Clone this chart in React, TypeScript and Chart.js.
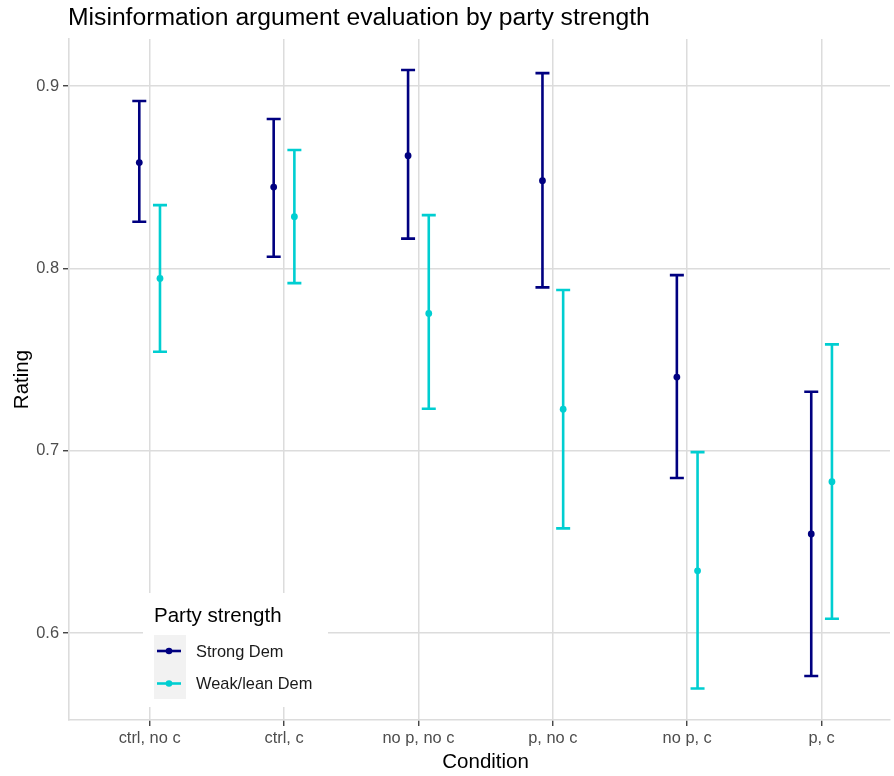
import { useEffect, useRef } from "react";
import { Chart, registerables } from "chart.js";

Chart.register(...registerables);

const categories = ["ctrl, no c", "ctrl, c", "no p, no c", "p, no c", "no p, c", "p, c"];
const seriesNames = ["Strong Dem", "Weak/lean Dem"];
const strongMean = [0.858, 0.8446, 0.8618, 0.8481, 0.7404, 0.6543];
const strongLow = [0.8256, 0.8064, 0.8163, 0.7896, 0.685, 0.5764];
const strongHigh = [0.8918, 0.8819, 0.9088, 0.9071, 0.7963, 0.7323];
const weakMean = [0.7945, 0.8283, 0.7753, 0.7228, 0.6341, 0.683];
const weakLow = [0.7543, 0.7919, 0.723, 0.6574, 0.5696, 0.6078];
const weakHigh = [0.8347, 0.8649, 0.8292, 0.7881, 0.6992, 0.7583];
const yTicks = [0.6, 0.7, 0.8, 0.9];
const yTickLabels = ["0.6", "0.7", "0.8", "0.9"];
const seriesColors = ["#000080", "#00CED1"];
const dodgeOffsets = [-0.077, 0.077];

const titleText = "Misinformation argument evaluation by party strength";
const xTitle = "Condition";
const yTitle = "Rating";
const legendTitle = "Party strength";

const FONT = "'Liberation Sans', Arial, Helvetica, sans-serif";

type Pt = { x: number; y: number; lo: number; hi: number };

function buildData(mean: number[], lo: number[], hi: number[], off: number): Pt[] {
  return categories.map((_, i) => ({ x: i + off, y: mean[i], lo: lo[i], hi: hi[i] }));
}

const errorBarPlugin = {
  id: "errorBars",
  beforeDatasetsDraw(chart: any) {
    const ctx = chart.ctx;
    const xs = chart.scales.x;
    const ys = chart.scales.y;
    chart.data.datasets.forEach((ds: any) => {
      ctx.save();
      ctx.strokeStyle = ds.borderColor;
      ctx.lineWidth = 2.6;
      ctx.lineCap = "butt";
      (ds.data as Pt[]).forEach((d) => {
        const px = xs.getPixelForValue(d.x);
        const pLo = ys.getPixelForValue(d.lo);
        const pHi = ys.getPixelForValue(d.hi);
        const hw = 7;
        ctx.beginPath();
        ctx.moveTo(px, pLo);
        ctx.lineTo(px, pHi);
        ctx.moveTo(px - hw, pHi);
        ctx.lineTo(px + hw, pHi);
        ctx.moveTo(px - hw, pLo);
        ctx.lineTo(px + hw, pLo);
        ctx.stroke();
      });
      ctx.restore();
    });
  },
};

const decorPlugin = {
  id: "decor",
  afterDraw(chart: any) {
    const ctx = chart.ctx;
    const area = chart.chartArea;
    const xs = chart.scales.x;
    ctx.save();
    // title
    ctx.fillStyle = "#000000";
    ctx.font = `24.7px ${FONT}`;
    ctx.textAlign = "left";
    ctx.textBaseline = "alphabetic";
    ctx.fillText(titleText, 68, 25);
    // x title
    ctx.font = `20.5px ${FONT}`;
    ctx.textAlign = "center";
    ctx.fillText(xTitle, xs.getPixelForValue((categories.length - 1) / 2), 768);
    // y title
    ctx.save();
    ctx.translate(28, (area.top + area.bottom) / 2);
    ctx.rotate(-Math.PI / 2);
    ctx.fillText(yTitle, 0, 0);
    ctx.restore();

    // legend
    ctx.fillStyle = "#ffffff";
    ctx.fillRect(143, 593, 185, 114);
    ctx.fillStyle = "#000000";
    ctx.font = `20.5px ${FONT}`;
    ctx.textAlign = "left";
    ctx.fillText(legendTitle, 154, 622);
    ctx.fillStyle = "#f2f2f2";
    ctx.fillRect(154, 635, 32, 64);
    const rows = [651, 683.5];
    seriesNames.forEach((name, i) => {
      const cy = rows[i];
      ctx.strokeStyle = seriesColors[i];
      ctx.lineWidth = 2.6;
      ctx.beginPath();
      ctx.moveTo(157, cy);
      ctx.lineTo(181, cy);
      ctx.stroke();
      ctx.fillStyle = seriesColors[i];
      ctx.beginPath();
      ctx.arc(169, cy, 3.3, 0, Math.PI * 2);
      ctx.fill();
      ctx.fillStyle = "#1a1a1a";
      ctx.font = `16.4px ${FONT}`;
      ctx.textBaseline = "middle";
      ctx.fillText(name, 196, cy + 1);
      ctx.textBaseline = "alphabetic";
    });
    ctx.restore();
  },
};

export default function App() {
  const ref = useRef<HTMLCanvasElement | null>(null);

  useEffect(() => {
    if (!ref.current) return;
    const chart = new Chart(ref.current, {
      type: "scatter",
      data: {
        datasets: [
          {
            label: seriesNames[0],
            data: buildData(strongMean, strongLow, strongHigh, dodgeOffsets[0]) as any,
            borderColor: seriesColors[0],
            backgroundColor: seriesColors[0],
            pointRadius: 3.4,
            pointBorderWidth: 0,
            showLine: false,
          },
          {
            label: seriesNames[1],
            data: buildData(weakMean, weakLow, weakHigh, dodgeOffsets[1]) as any,
            borderColor: seriesColors[1],
            backgroundColor: seriesColors[1],
            pointRadius: 3.4,
            pointBorderWidth: 0,
            showLine: false,
          },
        ],
      },
      options: {
        responsive: false,
        animation: false,
        events: [],
        layout: { padding: { top: 39, left: 0, right: 0, bottom: 0 } },
        plugins: {
          legend: { display: false },
          tooltip: { enabled: false },
          title: { display: false },
        },
        scales: {
          x: {
            type: "linear",
            min: -0.6,
            max: 5.509,
            afterBuildTicks: (scale: any) => {
              scale.ticks = categories.map((_, i) => ({ value: i }));
            },
            afterFit: (scale: any) => {
              scale.height = 56;
            },
            ticks: {
              callback: (v: any) => categories[Math.round(Number(v))] ?? "",
              color: "#4d4d4d",
              font: { family: FONT, size: 16.4 },
              padding: 3,
              maxRotation: 0,
              autoSkip: false,
            },
            grid: {
              color: "#dcdcdc",
              lineWidth: 1.5,
              tickColor: "#333333",
              tickLength: 6,
              tickWidth: 1.3,
            },
            border: { color: "#dcdcdc", width: 1.6 },
          },
          y: {
            type: "linear",
            min: 0.5523,
            max: 0.9258,
            afterBuildTicks: (scale: any) => {
              scale.ticks = yTicks.map((v) => ({ value: v }));
            },
            afterFit: (scale: any) => {
              scale.width = 69;
            },
            ticks: {
              callback: (v: any) => {
                const idx = yTicks.findIndex((t) => Math.abs(t - Number(v)) < 1e-6);
                return idx >= 0 ? yTickLabels[idx] : "";
              },
              color: "#4d4d4d",
              font: { family: FONT, size: 16.4 },
              padding: 4,
              autoSkip: false,
            },
            grid: {
              color: "#dcdcdc",
              lineWidth: 1.5,
              tickColor: "#333333",
              tickLength: 6,
              tickWidth: 1.3,
            },
            border: { color: "#dcdcdc", width: 1.6 },
          },
        },
      },
      plugins: [errorBarPlugin, decorPlugin],
    });
    return () => chart.destroy();
  }, []);

  return (
    <div style={{ position: "absolute", left: 0, top: 0, width: 894, height: 776, overflow: "hidden", background: "#ffffff" }}>
      <canvas ref={ref} width={894} height={776} style={{ width: 894, height: 776, display: "block" }} />
    </div>
  );
}
